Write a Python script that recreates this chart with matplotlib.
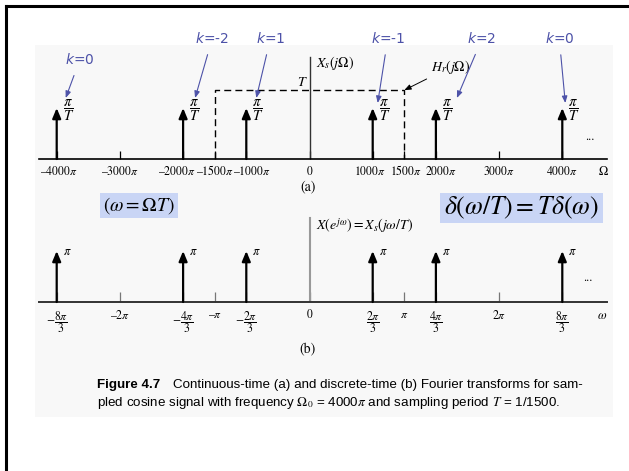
import matplotlib
matplotlib.use("Agg")
import matplotlib.pyplot as plt
import matplotlib.transforms as mtransforms
from matplotlib import font_manager
from matplotlib.lines import Line2D
from matplotlib.patches import Rectangle

# --- data -------------------------------------------------------------------
# (a) continuous-time spectrum, frequencies in units of pi (Omega / pi)
omega_a = [-4000, -2000, -1000, 1000, 2000, 4000]
k_labels = ["k=0", "k=-2", "k=1", "k=-1", "k=2", "k=0"]
ticks_a = [-4000, -3000, -2000, -1500, -1000, 0, 1000, 1500, 2000, 3000, 4000]
tick_labels_a = ["\u20134000$\\pi$", "\u20133000$\\pi$", "\u20132000$\\pi$",
                 "\u20131500$\\pi$", "\u20131000$\\pi$", "0", "1000$\\pi$",
                 "1500$\\pi$", "2000$\\pi$", "3000$\\pi$", "4000$\\pi$"]
impulse_height = 1.0   # pi/T, drawn height
hr_cutoff = 1500       # H_r(j Omega) cut-off, Omega / pi
hr_height = 1.35       # T, drawn height

# (b) discrete-time spectrum, omega / pi  (omega = Omega T, T = 1/1500)
omega_b = [-8 / 3, -4 / 3, -2 / 3, 2 / 3, 4 / 3, 8 / 3]
ticks_b = [-8 / 3, -2, -4 / 3, -1, -2 / 3, 0, 2 / 3, 1, 4 / 3, 2, 8 / 3]
tick_labels_b = [r"$-\dfrac{8\pi}{3}$", "\u20132$\\pi$", r"$-\dfrac{4\pi}{3}$",
                 "\u2013$\\pi$", r"$-\dfrac{2\pi}{3}$", "0", r"$\dfrac{2\pi}{3}$",
                 r"$\pi$", r"$\dfrac{4\pi}{3}$", r"$2\pi$", r"$\dfrac{8\pi}{3}$"]
impulse_height_b = 1.0  # pi

# --- layout (pixels of the 629x471 canvas) ------------------------------------
W, H = 629, 471
X0, SCALE = 309.5, 0.0632   # pixel of Omega = 0, pixels per unit of Omega/pi
PX_UNIT = 51                # vertical pixels per unit of drawn height
LEFT, RIGHT = 39, 607
BLUE = "#4d52a8"

# crowded tick labels of (a) are nudged sideways (pixels)
label_shift_a = [2, 0, -6, 0, 6, 0, -3, 2, 5, 0, 0]

# blue arrow tip offset from the impulse tip, and text offset from the arrow tip
k_tip_off = [(9, 10), (12, 10), (10, 10), (5, 5), (21, 10), (3, 5)]
k_text_off = [(14, 38), (17, 59), (14, 59), (10, 64), (25, 59), (-6, 64)]


def fx(x):
    return x / W


def fy(y):
    return 1 - y / H


plt.rcParams["mathtext.fontset"] = "stix"
plt.rcParams["font.family"] = ["STIXGeneral", "DejaVu Sans"]

names = {f.name for f in font_manager.fontManager.ttflist}
cap_font = "Liberation Sans Narrow" if "Liberation Sans Narrow" in names else "Liberation Sans"

fig = plt.figure(figsize=(W / 100, H / 100), dpi=100)

# light page background and the black frame
fig.add_artist(Rectangle((fx(35), fy(417)), (613 - 35) / W, (417 - 45) / H,
                         transform=fig.transFigure, fc="#f8f8f8", ec="none", zorder=0))
fig.add_artist(Line2D([fx(5.5), 1], [fy(5.5), fy(5.5)], transform=fig.transFigure,
                      color="black", lw=2.2))
fig.add_artist(Line2D([fx(5.5), fx(5.5)], [fy(5.5), 0], transform=fig.transFigure,
                      color="black", lw=2.2))


def setup_axis(ax, spine_color, spine_lw, tick_color, tick_len, labelsize, pad):
    ax.set_facecolor("none")
    for side in ("top", "right", "left"):
        ax.spines[side].set_visible(False)
    ax.spines["bottom"].set_color(spine_color)
    ax.spines["bottom"].set_linewidth(spine_lw)
    ax.set_yticks([])
    ax.tick_params(axis="x", direction="in", length=tick_len, width=0.9,
                   color=tick_color, pad=pad, labelsize=labelsize)


def impulse(ax, x, h, label, fs, dy):
    ax.annotate("", xy=(x, h), xytext=(x, 0),
                arrowprops=dict(arrowstyle="-|>,head_length=0.6,head_width=0.25",
                                lw=1.6, color="black", shrinkA=0, shrinkB=0,
                                mutation_scale=10))
    ax.annotate(label, xy=(x, h), xytext=(6, dy), textcoords="offset pixels",
                ha="left", va="center", fontsize=fs)


# --- panel (a) ---------------------------------------------------------------
ax_a = fig.add_axes([fx(LEFT), fy(159), (RIGHT - LEFT) / W, (159 - 50) / H])
ax_a.set_xlim((LEFT - X0) / SCALE, (RIGHT - X0) / SCALE)
ax_a.set_ylim(0, (159 - 50) / PX_UNIT)
setup_axis(ax_a, "black", 1.2, "black", 6, 8.5, 11.3)
ax_a.set_xticks(ticks_a, tick_labels_a)
for lab, dx in zip(ax_a.get_xticklabels(), label_shift_a):
    lab.set_verticalalignment("baseline")
    lab.set_transform(lab.get_transform()
                      + mtransforms.ScaledTranslation(dx / 100, 0, fig.dpi_scale_trans))

ax_a.plot([0, 0], [0, 2.0], color="#333333", lw=1)
ax_a.plot([-hr_cutoff, -hr_cutoff, hr_cutoff, hr_cutoff],
          [0, hr_height, hr_height, 0], color="black", lw=1, dashes=(5, 3))

for w in omega_a:
    impulse(ax_a, w, impulse_height, r"$\dfrac{\pi}{T}$", 10.5, -2)

ax_a.annotate(r"$T$", xy=(0, hr_height), xytext=(-7, 1), textcoords="offset pixels",
              ha="center", va="bottom", fontsize=10)
ax_a.annotate(r"$X_s(j\Omega)$", xy=(0, 1.88), xytext=(7, 0), textcoords="offset pixels",
              ha="left", va="center", fontsize=10)
ax_a.annotate(r"$H_r(j\Omega)$", xy=(hr_cutoff, hr_height), xytext=(46, 23),
              textcoords="offset pixels", ha="center", va="center", fontsize=10,
              arrowprops=dict(arrowstyle="-|>,head_length=0.5,head_width=0.2",
                              lw=0.7, color="black", shrinkA=1, shrinkB=0,
                              mutation_scale=8))

for w, lab, (dx, dy), (tx, ty) in zip(omega_a, k_labels, k_tip_off, k_text_off):
    tr = mtransforms.offset_copy(ax_a.transData, fig=fig, x=dx, y=dy, units="dots")
    ax_a.annotate("$k$" + lab[1:], xy=(w, impulse_height), xycoords=tr,
                  xytext=(tx, ty), textcoords="offset pixels", ha="center",
                  va="center", fontsize=10, color=BLUE, family="DejaVu Sans",
                  math_fontfamily="dejavusans",
                  arrowprops=dict(arrowstyle="-|>,head_length=0.5,head_width=0.2",
                                  lw=0.8, color=BLUE, shrinkA=4, shrinkB=0,
                                  mutation_scale=8))

fig.text(fx(603), fy(172), r"$\Omega$", ha="center", va="center", fontsize=9)
fig.text(fx(590), fy(137), "...", ha="center", va="center", fontsize=9)
fig.text(fx(308), fy(187), "(a)", ha="center", va="center", fontsize=10)

# --- blue formula boxes -------------------------------------------------------
fig.add_artist(Rectangle((fx(100), fy(218)), 78 / W, 25 / H, transform=fig.transFigure,
                         fc="#c9d5f5", ec="none"))
fig.text(fx(139), fy(205.5), r"$(\omega = \Omega T)$", ha="center", va="center", fontsize=14)
fig.add_artist(Rectangle((fx(440), fy(223)), 163 / W, 30 / H, transform=fig.transFigure,
                         fc="#c9d5f5", ec="none"))
fig.text(fx(521), fy(208), r"$\delta(\omega/T) = T\delta(\omega)$", ha="center",
         va="center", fontsize=18.5)

# --- panel (b) ---------------------------------------------------------------
ax_b = fig.add_axes([fx(LEFT), fy(302), (RIGHT - LEFT) / W, (302 - 212) / H])
ax_b.set_xlim((LEFT - X0) / SCALE / 1500, (RIGHT - X0) / SCALE / 1500)
ax_b.set_ylim(0, (302 - 212) / PX_UNIT)
setup_axis(ax_b, "#333333", 1.4, "#777777", 7, 8.5, 5)
ax_b.set_xticks(ticks_b, tick_labels_b)

ax_b.plot([0, 0], [0, (302 - 218) / PX_UNIT], color="#999999", lw=1.5)
for w in omega_b:
    impulse(ax_b, w, impulse_height_b, r"$\pi$", 9, -1)

ax_b.annotate(r"$X(e^{j\omega}) = X_s(j\omega/T)$", xy=(0, 1.49), xytext=(6, 0),
              textcoords="offset pixels", ha="left", va="center", fontsize=10)
fig.text(fx(602), fy(316), r"$\omega$", ha="center", va="center", fontsize=9)
fig.text(fx(588), fy(278), "...", ha="center", va="center", fontsize=9)
fig.text(fx(308), fy(350), "(b)", ha="center", va="center", fontsize=10)

# --- caption -----------------------------------------------------------------
fig.text(fx(97), fy(385), "Figure 4.7", ha="left", va="center", fontsize=9.6,
         weight="bold", family=cap_font)
fig.text(fx(173), fy(385),
         "Continuous-time (a) and discrete-time (b) Fourier transforms for sam-",
         ha="left", va="center", fontsize=9.6, family=cap_font)
fig.text(fx(97), fy(403),
         r"pled cosine signal with frequency $\Omega_0$ = 4000$\pi$ and sampling "
         r"period $T$ = 1/1500.",
         ha="left", va="center", fontsize=9.6, family=cap_font)

fig.savefig("out.png", dpi=100)
